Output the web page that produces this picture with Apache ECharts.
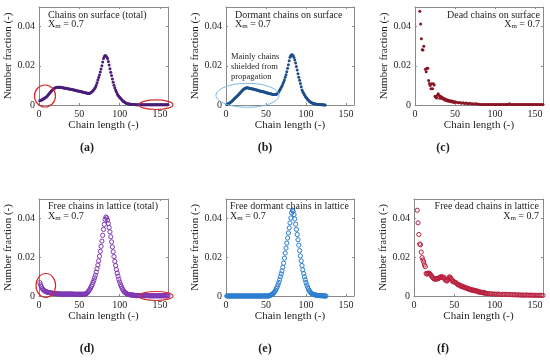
<!DOCTYPE html>
<html><head><meta charset="utf-8">
<script src="https://cdn.jsdelivr.net/npm/echarts@6/dist/echarts.min.js"></script>
<style>html,body{margin:0;padding:0;background:#fff}#c{width:550px;height:362px}</style>
</head><body><div id="c"></div><script>
// ---------- DATA ----------
// (a) Chains on surface (total), chain length 1..160
const startA = 1;
const fracA = [
0.0022,0.0023,0.0025,0.0027,0.0030,0.0032,0.0035,0.0038,0.0041,0.0045,
0.0050,0.0055,0.0060,0.0065,0.0070,0.0074,0.0078,0.0082,0.0085,0.0087,
0.0089,0.0090,0.0091,0.0091,0.0091,0.0090,0.0090,0.0089,0.0088,0.0088,
0.0087,0.0086,0.0085,0.0085,0.0084,0.0083,0.0082,0.0081,0.0080,0.0080,
0.0079,0.0078,0.0077,0.0076,0.0075,0.0074,0.0073,0.0072,0.0071,0.0070,
0.0069,0.0068,0.0067,0.0066,0.0065,0.0064,0.0063,0.0062,0.0061,0.0060,
0.0059,0.0059,0.0060,0.0062,0.0065,0.0069,0.0073,0.0078,0.0084,0.0091,
0.0101,0.0113,0.0127,0.0140,0.0153,0.0168,0.0184,0.0200,0.0220,0.0237,
0.0248,0.0252,0.0250,0.0245,0.0237,0.0222,0.0204,0.0185,0.0167,0.0150,
0.0133,0.0116,0.0101,0.0088,0.0077,0.0067,0.0058,0.0050,0.0045,0.0040,
0.0035,0.0030,0.0025,0.0021,0.0018,0.0015,0.0012,0.0010,0.0008,0.0007,
0.0006,0.0005,0.0004,0.0004,0.0003,0.0002,0.0002,0.0002,0.0002,0.0001,
0.0001,0.0001,0.0001,0.0001,0.0001,0.0001,0.0001,0.0001,0.0001,0.0001,
0.0001,0.0001,0.0001,0.0001,0.0001,0.0001,0.0001,0.0001,0.0001,0.0001,
0.0001,0.0001,0.0001,0.0001,0.0001,0.0001,0.0001,0.0001,0.0001,0.0001,
0.0001,0.0001,0.0001,0.0001,0.0001,0.0001,0.0001,0.0001,0.0001,0.0001];

// (b) Dormant chains on surface, chain length 1..124
const startB = 1;
const fracB = [
0.0003,0.0005,0.0007,0.0009,0.0012,0.0015,0.0018,0.0022,0.0026,0.0030,
0.0034,0.0038,0.0042,0.0046,0.0050,0.0055,0.0059,0.0064,0.0068,0.0073,
0.0077,0.0080,0.0083,0.0086,0.0087,0.0088,0.0088,0.0087,0.0086,0.0085,
0.0084,0.0083,0.0082,0.0081,0.0080,0.0079,0.0078,0.0077,0.0076,0.0074,
0.0073,0.0072,0.0071,0.0070,0.0069,0.0068,0.0067,0.0066,0.0065,0.0063,
0.0062,0.0061,0.0060,0.0059,0.0058,0.0057,0.0056,0.0055,0.0054,0.0053,
0.0053,0.0053,0.0055,0.0058,0.0063,0.0068,0.0075,0.0082,0.0089,0.0097,
0.0107,0.0117,0.0128,0.0141,0.0154,0.0170,0.0187,0.0205,0.0226,0.0244,
0.0253,0.0256,0.0255,0.0251,0.0242,0.0230,0.0214,0.0197,0.0178,0.0159,
0.0142,0.0126,0.0110,0.0093,0.0077,0.0068,0.0060,0.0052,0.0046,0.0040,
0.0035,0.0029,0.0024,0.0020,0.0017,0.0014,0.0012,0.0010,0.0008,0.0007,
0.0006,0.0005,0.0004,0.0003,0.0003,0.0002,0.0002,0.0002,0.0001,0.0001,
0.0001,0.0001,0.0000,0.0000];

// (c) Dead chains on surface
const lenC = [6,7,8,9,10,11,13,14,15,16,17,18,19,20,21,22,23,24,25,26,27,28,29,30,
31,32,33,34,35,36,37,38,39,40,41,42,43,44,45,46,47,48,49,50,52,54,56,58,60,62,64,66,68,70,
72,74,76,78,80,82,84,86,88,90,92,94,96,98,100,102,104,106,108,110,112,114,116,118,120,122,
124,126,128,130,132,134,136,138,140,142,144,146,148,150,152,154,156,158,160];
const fracC = [0.0478,0.0413,0.0338,0.0282,0.0280,0.0300,0.0183,0.0170,0.0187,0.0188,0.0125,0.0110,0.0100,0.0083,
0.0108,0.0083,0.0108,0.0102,0.0045,0.0040,0.0036,0.0050,0.0058,0.0048,
0.0035,0.0045,0.0034,0.0040,0.0030,0.0033,0.0026,0.0030,0.0023,0.0027,0.0020,0.0024,0.0019,0.0022,0.0016,0.0020,
0.0015,0.0018,0.0013,0.0016,0.0014,0.0011,0.0013,0.0009,0.0011,0.0008,0.0010,0.0007,0.0009,0.0006,
0.0007,0.0005,0.0006,0.0005,0.0004,0.0003,0.0002,0.0003,0.0002,0.0003,0.0002,0.0002,0.0003,0.0002,0.0002,0.0002,
0.0003,0.0002,0.0002,0.0002,0.0002,0.0002,0.0002,0.0006,0.0002,0.0002,
0.0002,0.0002,0.0002,0.0002,0.0002,0.0002,0.0002,0.0002,0.0002,0.0002,0.0002,0.0002,0.0002,0.0002,0.0002,
0.0002,0.0002,0.0002,0.0002];

// (d) Free chains in lattice (total), chain length 1..160
const startD = 1;
const fracD = [
0.0069,0.0057,0.0047,0.0039,0.0033,0.0029,0.0026,0.0024,0.0022,0.0020,
0.0019,0.0018,0.0017,0.0016,0.0016,0.0015,0.0014,0.0013,0.0013,0.0012,
0.0012,0.0011,0.0011,0.0011,0.0011,0.0010,0.0010,0.0010,0.0010,0.0010,
0.0010,0.0010,0.0010,0.0010,0.0010,0.0010,0.0010,0.0010,0.0010,0.0010,
0.0010,0.0010,0.0009,0.0009,0.0009,0.0009,0.0009,0.0009,0.0009,0.0009,
0.0009,0.0009,0.0009,0.0009,0.0009,0.0009,0.0010,0.0011,0.0013,0.0017,
0.0022,0.0028,0.0034,0.0041,0.0050,0.0059,0.0070,0.0081,0.0094,0.0107,
0.0123,0.0141,0.0160,0.0181,0.0205,0.0230,0.0256,0.0283,0.0313,0.0343,
0.0369,0.0395,0.0407,0.0403,0.0391,0.0374,0.0353,0.0331,0.0305,0.0279,
0.0253,0.0228,0.0203,0.0179,0.0157,0.0136,0.0118,0.0102,0.0086,0.0072,
0.0060,0.0050,0.0041,0.0033,0.0026,0.0020,0.0017,0.0014,0.0011,0.0009,
0.0008,0.0007,0.0006,0.0006,0.0005,0.0005,0.0004,0.0004,0.0003,0.0003,
0.0002,0.0002,0.0002,0.0002,0.0002,0.0002,0.0002,0.0002,0.0002,0.0002,
0.0002,0.0002,0.0002,0.0002,0.0002,0.0001,0.0001,0.0001,0.0001,0.0001,
0.0001,0.0001,0.0001,0.0001,0.0001,0.0001,0.0001,0.0001,0.0001,0.0001,
0.0001,0.0001,0.0001,0.0001,0.0001,0.0001,0.0001,0.0001,0.0001,0.0001];

// (e) Free dormant chains in lattice, chain length 1..125
const startE = 1;
const fracE = [
0,0,0,0,0,0,0,0,0,0, 0,0,0,0,0,0,0,0,0,0, 0,0,0,0,0,0,0,0,0,0,
0,0,0,0,0,0,0,0,0,0, 0,0,0,0,0,0,0,0,0,0, 0,0,0,0.0001,
0.0003,0.0005,0.0007,0.0009,0.0013,0.0017,0.0023,0.0030,0.0038,0.0047,
0.0058,0.0070,0.0084,0.0099,0.0114,0.0129,0.0148,0.0169,0.0195,0.0221,
0.0247,0.0273,0.0299,0.0325,0.0351,0.0377,0.0402,0.0428,0.0443,0.0437,
0.0420,0.0397,0.0370,0.0343,0.0317,0.0290,0.0262,0.0234,0.0207,0.0181,
0.0157,0.0135,0.0116,0.0099,0.0084,0.0070,0.0057,0.0046,0.0036,0.0028,
0.0022,0.0017,0.0013,0.0010,0.0008,0.0007,0.0006,0.0005,0.0004,0.0003,
0.0003,0.0002,0.0002,0.0002,0.0001,0.0001,0.0001,0.0001,0,0,0];

// (f) Free dead chains in lattice
const lenF = [4,5,6,7,8,9,10,11,12,13,14,15,16,17,18,19,20,21,22,23,24,25,26,27,28,29,30,
31,32,33,34,35,36,37,38,39,40,41,42,43,44,45,46,47,48,49,50,51,52,53,54,55,56,57,58,59,60,
61,62,63,64,65,66,67,68,69,70,71,72,73,74,75,76,77,78,79,80,81,82,83,84,85,86,87,88,89,90,
92,94,96,98,100,102,104,106,108,110,112,114,116,118,120,122,124,126,128,130,132,134,136,138,140,
142,144,146,148,150,152,154,156,158,160];
const fracF = [0.0442,0.0377,0.0317,0.0268,0.0264,0.0226,0.0198,0.0186,0.0175,0.0160,0.0151,0.0116,0.0113,0.0117,
0.0118,0.0116,0.0113,0.0108,0.0101,0.0096,0.0092,0.0088,0.0086,0.0090,0.0087,0.0091,0.0089,
0.0093,0.0096,0.0098,0.0100,0.0096,0.0094,0.0097,0.0088,0.0082,0.0079,0.0077,0.0085,0.0093,0.0099,
0.0095,0.0090,0.0082,0.0074,0.0076,0.0072,0.0070,0.0068,0.0065,0.0060,0.0057,0.0058,0.0055,0.0050,0.0052,0.0047,
0.0049,0.0045,0.0043,0.0042,0.0040,0.0041,0.0037,0.0035,0.0036,0.0033,0.0031,0.0030,0.0032,0.0028,0.0027,0.0029,
0.0026,0.0024,0.0025,0.0021,0.0022,0.0019,0.0020,0.0018,0.0017,0.0018,0.0015,0.0016,0.0014,0.0013,
0.0012,0.0012,0.0011,0.0010,0.0010,0.0009,0.0010,0.0009,0.0008,0.0009,0.0008,0.0009,0.0007,0.0008,0.0007,
0.0007,0.0006,0.0007,0.0005,0.0006,0.0005,0.0005,0.0004,0.0005,0.0005,
0.0004,0.0004,0.0005,0.0003,0.0004,0.0003,0.0003,0.0004,0.0003,0.0003];

const xTicks = [0, 50, 100, 150];
const yTicks = [0, 0.02, 0.04];
const panelTitles = ['Chains on surface (total)','Dormant chains on surface','Dead chains on surface',
  'Free chains in lattice (total)','Free dormant chains in lattice','Free dead chains in lattice'];
const panelLetters = ['(a)','(b)','(c)','(d)','(e)','(f)'];
const xmText = '0.7';
const noteLines = ['Mainly chains','shielded from','propagation'];

// ---------- BUILD ----------
const serif = '"Liberation Serif","Times New Roman",serif';
function seq(start, vals){ return vals.map((v,i)=>[start+i, v]); }
function pairs(xs, ys){ return xs.map((x,i)=>[x, ys[i]]); }

const datasets = [seq(startA,fracA), seq(startB,fracB), pairs(lenC,fracC),
                  seq(startD,fracD), seq(startE,fracE), pairs(lenF,fracF)];
const colors = ['#4a1d78','#1c4f8a','#8a1422','#7d36b4','#2c7cd0','#b8203e'];
const filled = [true,true,true,false,false,false];

const grids = [
 {left:39, top:7, width:129, height:98},
 {left:226, top:7, width:128, height:98},
 {left:415, top:7, width:128, height:98},
 {left:39, top:199, width:129, height:97},
 {left:226, top:199, width:128, height:97},
 {left:414, top:199, width:129, height:97}
];
const boxColor = '#8a8a8a';
const textColor = '#1e1e1e';
const xAxes = [], yAxes = [], series = [];
grids.forEach((g,i)=>{
  const common = {gridIndex:i, type:'value', splitLine:{show:false},
    axisLine:{show:true, onZero:false, lineStyle:{color:boxColor, width:1}},
    axisTick:{show:true, inside:true, length:2, lineStyle:{color:boxColor}}};
  xAxes.push(Object.assign({}, common, {position:'bottom', min:0, max:160, interval:50,
    axisLabel:{fontSize:10, fontFamily:serif, color:textColor, margin:4, showMaxLabel:false,
      formatter:v=>xTicks.includes(v)?String(v):''},
    name:'Chain length (-)', nameLocation:'middle', nameGap:15,
    nameTextStyle:{fontSize:11, fontFamily:serif, color:textColor}}));
  xAxes.push(Object.assign({}, common, {position:'top', min:0, max:160, interval:50, axisLabel:{show:false}}));
  yAxes.push(Object.assign({}, common, {position:'left', min:0, max:0.05, interval:0.02,
    axisLabel:{fontSize:10, fontFamily:serif, color:textColor, margin:4, showMaxLabel:false,
      formatter:v=>{const t=yTicks.find(k=>Math.abs(k-v)<1e-9); return t===undefined?'':String(t);}},
    name:'Number fraction (-)', nameLocation:'middle', nameGap:22,
    nameTextStyle:{fontSize:11, fontFamily:serif, color:textColor}}));
  yAxes.push(Object.assign({}, common, {position:'right', min:0, max:0.05, interval:0.02, axisLabel:{show:false}}));
  series.push({type:'scatter', xAxisIndex:2*i, yAxisIndex:2*i, data:datasets[i], silent:true,
    symbol:'circle', symbolSize: filled[i]?3:4.2,
    itemStyle: filled[i] ? {color:colors[i], opacity:1} :
      {color:'rgba(255,255,255,0)', borderColor:colors[i], borderWidth:1, opacity:1}});
});

// annotations
const graphics = [];
function txt(x,y,text,align,size,weight){
  return {type:'text', x, y, z:100, silent:true, style:{text, x:0, y:0, fill:textColor, fontSize:size||10,
    fontFamily:serif, fontWeight:weight||'normal', align:align||'left', verticalAlign:'middle'}};
}
function xm(x,y,align){
  return {type:'text', x, y, z:100, silent:true, style:{text:'{a|X}{b|m}{a| = '+xmText+'}', x:0, y:0,
    align:align, verticalAlign:'top', fill:textColor,
    rich:{a:{fontSize:10, fontFamily:serif, lineHeight:11, verticalAlign:'top', fill:textColor},
          b:{fontSize:7, fontFamily:serif, lineHeight:7, padding:[7,0,0,0], verticalAlign:'bottom', fill:textColor}}}};
}
// titles inside panels
graphics.push(txt(48,15,panelTitles[0],'left'));   graphics.push(xm(48,19,'left'));
graphics.push(txt(235,15,panelTitles[1],'left'));  graphics.push(xm(235,19,'left'));
graphics.push(txt(540,15,panelTitles[2],'right')); graphics.push(xm(540,19,'right'));
graphics.push(txt(48,206,panelTitles[3],'left'));  graphics.push(xm(48,211,'left'));
graphics.push(txt(230,206,panelTitles[4],'left')); graphics.push(xm(230,211,'left'));
graphics.push(txt(539,206,panelTitles[5],'right'));graphics.push(xm(539,211,'right'));
// note in (b)
graphics.push(txt(231,56.5,noteLines[0],'left',8.5));
graphics.push(txt(231,66.5,noteLines[1],'left',8.5));
graphics.push(txt(231,76.5,noteLines[2],'left',8.5));
// ellipses
function ell(cx,cy,rx,ry,stroke,w){return {type:'ellipse', z:101, silent:true, shape:{cx,cy,rx,ry}, style:{fill:'none', stroke, lineWidth:w}};}
graphics.push(ell(45,96,10.5,11,'#d62a2a',1.2));
graphics.push(ell(156,104.7,17,4.8,'#d62a2a',1.2));
graphics.push(ell(247.5,95.3,31.5,12,'#7ab6e2',1));
graphics.push(ell(45.8,285.5,9.8,12,'#d62a2a',1.2));
graphics.push(ell(156,296,17,4.5,'#d62a2a',1.2));
// panel letters
[[87,148],[265,148],[443,148],[87,349],[265,349],[443,349]].forEach((p,i)=>{
  const t = txt(p[0],p[1],panelLetters[i],'center',12,'bold'); graphics.push(t);
});

const chart = echarts.init(document.getElementById('c'), null, {renderer:'canvas'});
chart.setOption({animation:false, backgroundColor:'#fff', grid:grids, xAxis:xAxes, yAxis:yAxes, series, graphic:graphics});
</script></body></html>
